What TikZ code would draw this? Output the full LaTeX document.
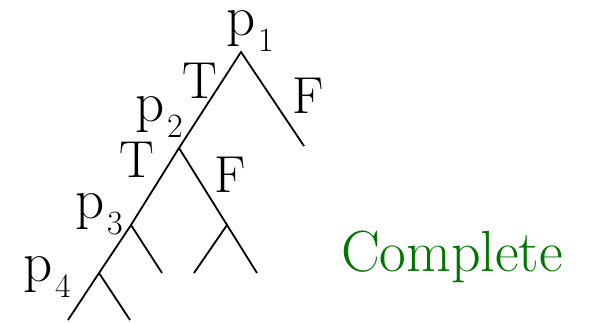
\documentclass[tikz,border=0pt]{standalone}
\newcommand\plab[1]{{\fontsize{57}{57}\selectfont p}\kern3pt\raisebox{-16pt}{\fontsize{34}{34}\selectfont #1}}
\definecolor{cgreen}{RGB}{0,118,0}
\begin{document}
\begin{tikzpicture}[x=1pt,y=-1pt,
  edge/.style={line width=1.8pt,line cap=butt},
  lab/.style={anchor=base west,inner sep=0pt,outer sep=0pt},
  tf/.style={lab,font=\fontsize{52}{52}\selectfont}]
\useasboundingbox (0,0) rectangle (604,322);
% vertices
\coordinate (v1) at (241,52);
\coordinate (f1) at (304,146);
\coordinate (v2) at (179,148);
\coordinate (q)  at (227,225);
\coordinate (ql) at (194,273);
\coordinate (qr) at (257,273);
\coordinate (v3) at (131,225);
\coordinate (v3r) at (162,273);
\coordinate (v4) at (99,273);
\coordinate (v4l) at (68,320);
\coordinate (v4r) at (130,320);
% edges
\draw[edge] (v4l) -- (v4) -- (v3) -- (v2) -- (v1) -- (f1);
\draw[edge] (v2) -- (q);
\draw[edge] (ql) -- (q) -- (qr);
\draw[edge] (v3) -- (v3r);
\draw[edge] (v4) -- (v4r);
% labels
\node[lab] (p1) at (226,35) {\plab{1}};
\node[lab] (p2) at (135,121) {\plab{2}};
\node[lab] (p3) at (75,218) {\plab{3}};
\node[lab] (p4) at (23,281) {\plab{4}};
\node[tf] (t1) at (182,98) {T};
\node[tf] (t2) at (119,177) {T};
\node[tf] (fl1) at (292,113) {F};
\node[tf] (fl2) at (214,192) {F};
\node[lab,text=cgreen,font=\fontsize{58}{58}\selectfont] (c) at (341,271) {Complete};
\end{tikzpicture}
\end{document}
